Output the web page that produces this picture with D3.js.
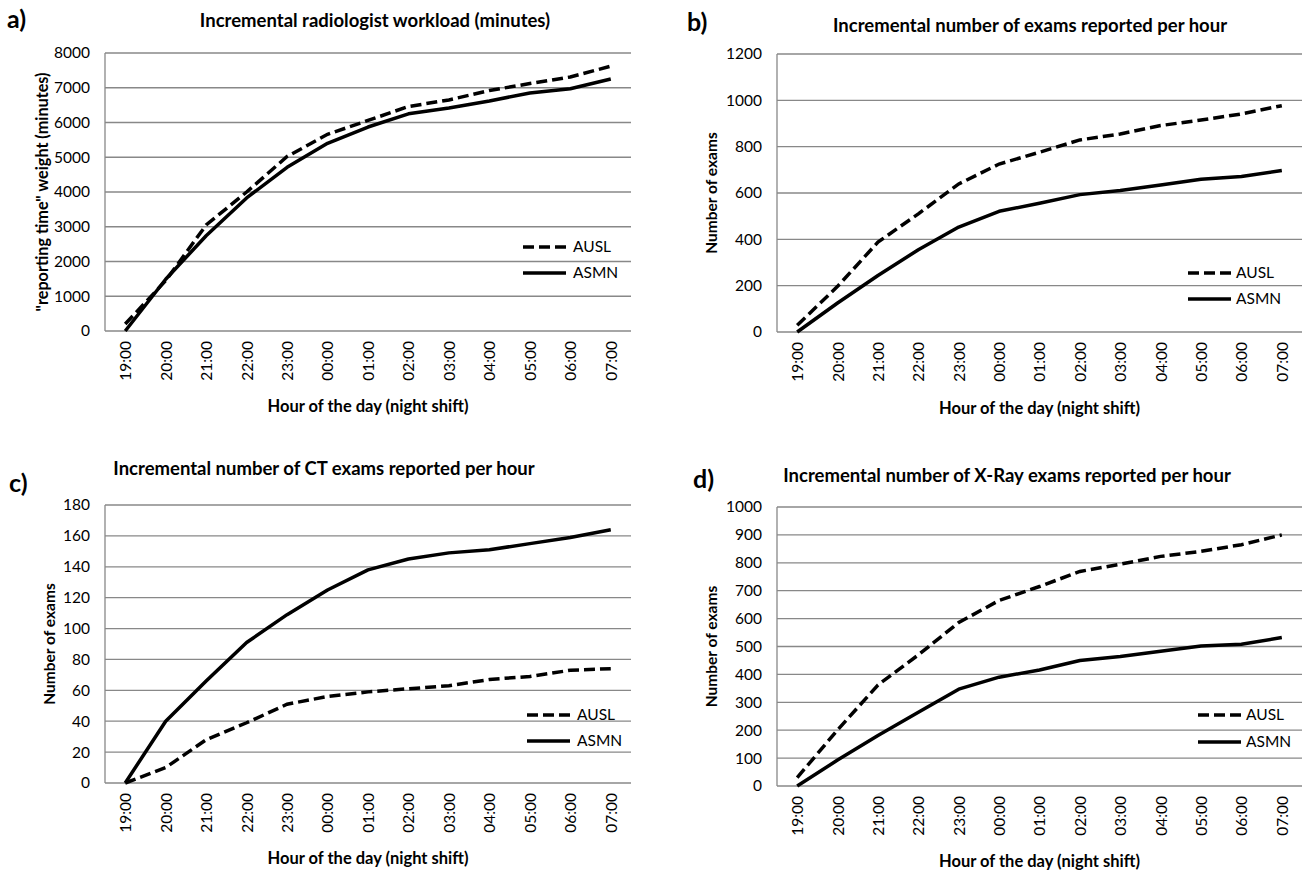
<!DOCTYPE html>
<html><head><meta charset="utf-8">
<script src="https://cdn.jsdelivr.net/npm/d3@7"></script>
<style>
html,body{margin:0;padding:0;background:#fff;}
svg text{font-family:Lato,"Open Sans",sans-serif;fill:#000;}
</style></head>
<body>
<svg id="chart" width="1304" height="872"></svg>
<script>
const hours = ["19:00","20:00","21:00","22:00","23:00","00:00","01:00","02:00","03:00","04:00","05:00","06:00","07:00"];
const seriesNames = ["AUSL","ASMN"];

const workloadAUSL = [200,1450,3050,4000,5020,5660,6060,6460,6650,6920,7120,7310,7620];
const workloadASMN = [0,1490,2740,3830,4710,5400,5870,6250,6420,6620,6850,6970,7250];
const workloadTicks = [0,1000,2000,3000,4000,5000,6000,7000,8000];

const examsAUSL = [29,197,388,510,639,725,776,829,855,891,915,941,977];
const examsASMN = [0,125,244,355,453,521,556,593,611,635,659,671,697];
const examsTicks = [0,200,400,600,800,1000,1200];

const ctAUSL = [0,10,28,39,51,56,59,61,63,67,69,73,74];
const ctASMN = [0,40,66,91,109,125,138,145,149,151,155,159,164];
const ctTicks = [0,20,40,60,80,100,120,140,160,180];

const xrayAUSL = [30,201,362,470,586,665,715,769,795,823,841,865,900];
const xrayASMN = [0,93,181,264,347,390,416,450,464,483,502,508,532];
const xrayTicks = [0,100,200,300,400,500,600,700,800,900,1000];

const panelLetters = ["a)","b)","c)","d)"];
const titles = ["Incremental radiologist  workload (minutes)",
  "Incremental number of exams reported per hour",
  "Incremental number of CT exams reported per hour",
  "Incremental number of X-Ray exams reported per hour"];
const yTitles = ["\"reporting time\" weight (minutes)","Number of exams","Number of exams","Number of exams"];
const xTitle = "Hour of the day (night shift)";

const svg = d3.select("#chart");

const panels = [
  {ausl:workloadAUSL, asmn:workloadASMN, ticks:workloadTicks, L:105, R:631, T:53, B:331,
   letter:[7,28], title:[375,27], yt:42, yfs:16.2, xt:412, leg:[523,566,573,247,273]},
  {ausl:examsAUSL, asmn:examsASMN, ticks:examsTicks, L:777, R:1302, T:54, B:332,
   letter:[687,31], title:[1030,32], yt:712, yfs:15.5, xt:414, leg:[1188,1231,1236,273,299]},
  {ausl:ctAUSL, asmn:ctASMN, ticks:ctTicks, L:105, R:631, T:505, B:783,
   letter:[9,492], title:[324,475], yt:50, yfs:15.5, xt:864, leg:[527,570,577,715,741]},
  {ausl:xrayAUSL, asmn:xrayASMN, ticks:xrayTicks, L:777, R:1302, T:507, B:786,
   letter:[693,488], title:[1007,482], yt:712, yfs:15.5, xt:867, leg:[1198,1241,1246,715,742]}
];

const dash = "11,5";
const tickFont = 15.5;

panels.forEach((p,i)=>{
  const g = svg.append("g");
  const x = d3.scalePoint().domain(hours).range([p.L,p.R]).padding(0.5);
  const y = d3.scaleLinear().domain([0,d3.max(p.ticks)]).range([p.B,p.T]);

  g.selectAll(".grid").data(p.ticks).join("line")
    .attr("x1",p.L).attr("x2",p.R).attr("y1",d=>y(d)).attr("y2",d=>y(d))
    .attr("stroke","#888").attr("stroke-width",1.3);
  g.append("line").attr("x1",p.L).attr("x2",p.L).attr("y1",p.T).attr("y2",p.B)
    .attr("stroke","#888").attr("stroke-width",1.3);

  const ya = d3.axisLeft(y).tickValues(p.ticks).tickSize(0).tickPadding(15).tickFormat(d3.format("d"));
  const yg = g.append("g").attr("transform",`translate(${p.L},0)`).call(ya);
  yg.select(".domain").remove();
  yg.selectAll("text").attr("font-size",tickFont).style("font-family","Lato,sans-serif").attr("fill","#000");

  const xa = d3.axisBottom(x).tickSize(0).tickPadding(0);
  const xg = g.append("g").attr("transform",`translate(0,${p.B})`).call(xa);
  xg.select(".domain").remove();
  xg.selectAll("text").attr("font-size",tickFont).style("font-family","Lato,sans-serif").attr("fill","#000")
    .attr("text-anchor","end").attr("dy","0.35em")
    .attr("transform","translate(0,10) rotate(-90)").attr("x",0).attr("y",0);

  const line = d3.line().x((d,j)=>x(hours[j])).y(d=>y(d));
  g.append("path").datum(p.asmn).attr("d",line).attr("fill","none")
    .attr("stroke","#000").attr("stroke-width",3.5).attr("stroke-linejoin","round");
  g.append("path").datum(p.ausl).attr("d",line).attr("fill","none")
    .attr("stroke","#000").attr("stroke-width",3.5).attr("stroke-dasharray",dash);

  const [lx1,lx2,tx,y1,y2] = p.leg;
  g.append("line").attr("x1",lx1).attr("x2",lx2).attr("y1",y1).attr("y2",y1)
    .attr("stroke","#000").attr("stroke-width",3.5).attr("stroke-dasharray",dash);
  g.append("line").attr("x1",lx1).attr("x2",lx2).attr("y1",y2).attr("y2",y2)
    .attr("stroke","#000").attr("stroke-width",3.5);
  g.append("text").attr("x",tx).attr("y",y1).attr("dy","0.35em").attr("font-size",tickFont).text(seriesNames[0]);
  g.append("text").attr("x",tx).attr("y",y2).attr("dy","0.35em").attr("font-size",tickFont).text(seriesNames[1]);

  g.append("text").attr("x",p.title[0]).attr("y",p.title[1]).attr("text-anchor","middle")
    .attr("font-size",18.5).attr("font-weight","bold").text(titles[i]);
  g.append("text").attr("x",p.letter[0]).attr("y",p.letter[1]).attr("font-size",25)
    .attr("font-weight","bold").text(panelLetters[i]);
  g.append("text").attr("transform",`translate(${p.yt},${(p.T+p.B)/2}) rotate(-90)`)
    .attr("text-anchor","middle").attr("dy","0.35em").attr("font-size",p.yfs).attr("font-weight","bold").text(yTitles[i]);
  g.append("text").attr("x",(p.L+p.R)/2).attr("y",p.xt).attr("text-anchor","middle")
    .attr("font-size",16.5).attr("font-weight","bold").text(xTitle);
});
</script>
</body></html>
